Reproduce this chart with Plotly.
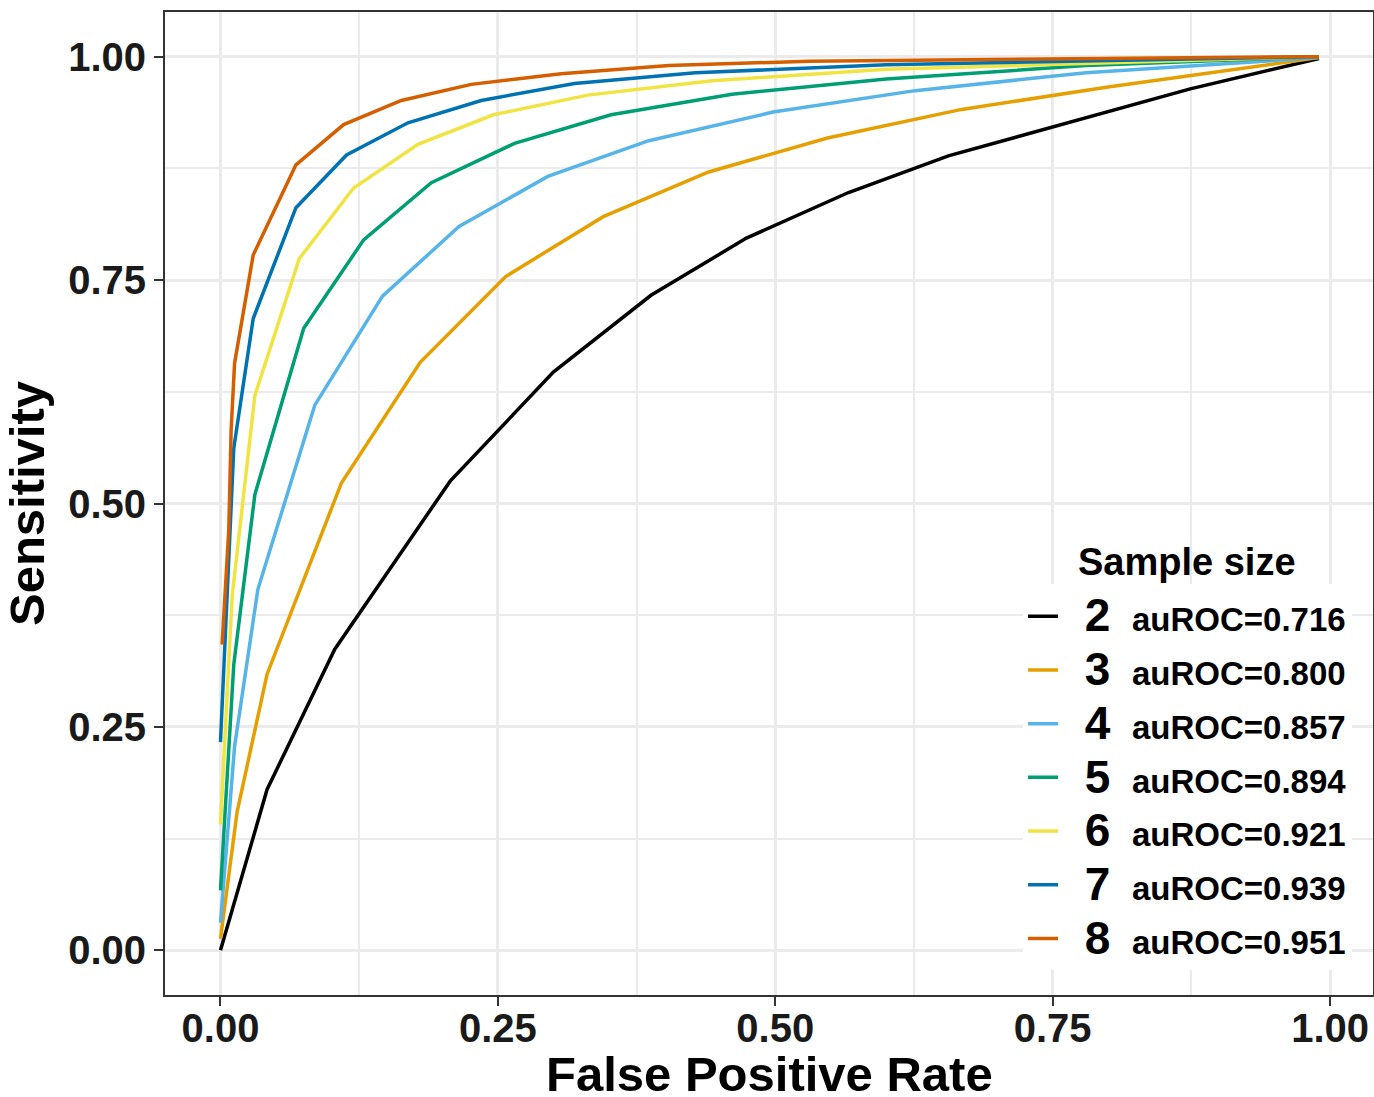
import plotly.graph_objects as go

# ROC points, one pair of lists per sample size
fpr_2 = [0.0, 0.042, 0.103, 0.207, 0.300, 0.388, 0.474, 0.566, 0.656, 0.760, 0.874, 0.990]
tpr_2 = [0.0, 0.180, 0.337, 0.525, 0.647, 0.733, 0.797, 0.848, 0.889, 0.925, 0.964, 0.998]

fpr_3 = [0.0, 0.015, 0.042, 0.109, 0.180, 0.257, 0.345, 0.440, 0.547, 0.668, 0.800, 0.990]
tpr_3 = [0.013, 0.155, 0.309, 0.523, 0.658, 0.754, 0.821, 0.871, 0.909, 0.941, 0.966, 0.999]

fpr_4 = [0.0, 0.0127, 0.0337, 0.085, 0.146, 0.215, 0.295, 0.386, 0.498, 0.626, 0.780, 0.990]
tpr_4 = [0.031, 0.228, 0.404, 0.610, 0.732, 0.810, 0.866, 0.906, 0.938, 0.962, 0.982, 0.999]

fpr_5 = [0.0, 0.012, 0.031, 0.075, 0.129, 0.190, 0.265, 0.352, 0.461, 0.600, 0.780, 0.990]
tpr_5 = [0.067, 0.320, 0.510, 0.696, 0.795, 0.859, 0.903, 0.935, 0.958, 0.975, 0.990, 1.0]

fpr_6 = [0.0, 0.0105, 0.031, 0.071, 0.120, 0.178, 0.246, 0.331, 0.443, 0.600, 0.990]
tpr_6 = [0.141, 0.396, 0.621, 0.774, 0.853, 0.902, 0.935, 0.957, 0.973, 0.986, 1.0]

fpr_7 = [0.0, 0.012, 0.0295, 0.068, 0.1136, 0.169, 0.235, 0.319, 0.428, 0.600, 0.990]
tpr_7 = [0.233, 0.562, 0.707, 0.831, 0.890, 0.926, 0.951, 0.970, 0.982, 0.991, 1.0]

fpr_8 = [0.0015, 0.0075, 0.0096, 0.0127, 0.0295, 0.068, 0.111, 0.163, 0.226, 0.307, 0.404, 0.530, 0.990]
tpr_8 = [0.342, 0.471, 0.582, 0.657, 0.778, 0.879, 0.924, 0.951, 0.969, 0.981, 0.990, 0.995, 1.0]

sizes = ["2", "3", "4", "5", "6", "7", "8"]
auroc = ["0.716", "0.800", "0.857", "0.894", "0.921", "0.939", "0.951"]
colors = ["#000000", "#E69F00", "#56B4E9", "#009E73", "#F0E442", "#0072B2", "#D55E00"]

fprs = [fpr_2, fpr_3, fpr_4, fpr_5, fpr_6, fpr_7, fpr_8]
tprs = [tpr_2, tpr_3, tpr_4, tpr_5, tpr_6, tpr_7, tpr_8]

fig = go.Figure()
for n, a, c, x, y in zip(sizes, auroc, colors, fprs, tprs):
    label = ("  <span style='font-size:46px'>" + n + "</span>  "
             "<span style='font-size:33px'>auROC=" + a + "</span>")
    fig.add_trace(go.Scatter(x=x, y=y, mode="lines", name=label,
                             line=dict(color=c, width=3.5)))

axis_common = dict(
    automargin=False,
    showline=True, mirror=True, linecolor="#333333", linewidth=2,
    ticks="outside", ticklen=9, tickwidth=2, tickcolor="#333333",
    showgrid=True, gridcolor="#EBEBEB", gridwidth=2.5,
    zeroline=False, tick0=0, dtick=0.25, tickformat=".2f",
    tickfont=dict(family="Liberation Sans", size=40, color="#1a1a1a", weight="bold"),
    minor=dict(dtick=0.125, showgrid=True, gridcolor="#EBEBEB", gridwidth=1.5),
)

fig.update_xaxes(axis_common, range=[-0.05, 1.0387], ticklabelstandoff=-12)
fig.update_yaxes(axis_common, range=[-0.05, 1.05],
                 title=dict(text="Sensitivity", standoff=11,
                            font=dict(family="Liberation Sans", size=49, color="black", weight="bold")))

# x title as an annotation so it can sit lower than the margin allows
fig.add_annotation(text="False Positive Rate", xref="paper", yref="paper", x=0.5, y=-0.0800,
                   xanchor="center", yanchor="middle", showarrow=False,
                   font=dict(family="Liberation Sans", size=49, color="black", weight="bold"))

fig.add_annotation(text="Sample size", xref="paper", yref="paper", x=0.846, y=0.4405,
                   xanchor="center", yanchor="middle", showarrow=False,
                   font=dict(family="Liberation Sans", size=38, color="black", weight="bold"))

fig.update_layout(
    width=1374, height=1097,
    margin=dict(l=165, r=1, t=12, b=102),
    plot_bgcolor="white", paper_bgcolor="white",
    legend=dict(x=0.7103, y=0.025, xanchor="left", yanchor="bottom",
                bgcolor="white", borderwidth=0,
                font=dict(family="Liberation Sans", size=39, color="black", weight="bold")),
)

# drop the default body margin so the figure fills the window exactly
fig.write_html("out.html", config={"displayModeBar": False},
               post_script="document.body.style.margin='0px';")
